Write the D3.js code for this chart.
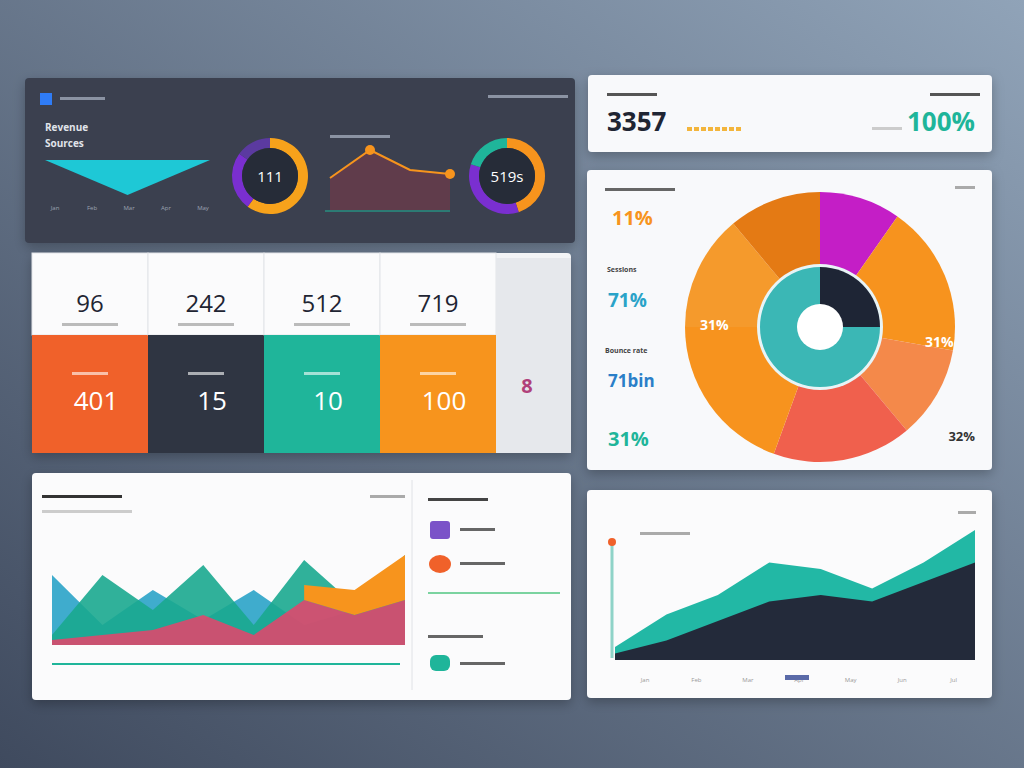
<!DOCTYPE html>
<meta charset="utf-8">
<script src="https://cdn.jsdelivr.net/npm/d3@7"></script>
<style>
body { margin:0; overflow:hidden; font-family: "Open Sans", "DejaVu Sans", sans-serif; }
</style>
<body>
<script>
// data
var kpiTop = ["96", "242", "512", "719"];
var kpiBottom = ["401", "15", "10", "100"];
var kpiColors = ["#f0612a", "#2f3542", "#1fb59a", "#f7941d"];
var pieValues = [35, 65, 40, 60, 70, 50, 40];
var pieColors = ["#c41ec6", "#f7931e", "#f4894a", "#f0604d", "#f7931e", "#f59a2c", "#e47a14"];
var innerValues = [25, 75];
var innerColors = ["#1e2535", "#3bb7b5"];
var leftArea1 = [70, 20, 55, 25, 55, 20, 35, 70];
var leftArea2 = [10, 70, 35, 80, 20, 85, 40, 90];
var leftArea3 = [5, 10, 15, 30, 10, 45, 30, 45];
var rightTeal = [10, 35, 50, 75, 70, 55, 75, 100];
var rightDark = [5, 15, 30, 45, 50, 45, 60, 75];
var topLine = [40, 75, 50, 45];
var donut1 = [60, 25, 15];
var donut2 = [45, 35, 20];
var months = ["Jan", "Feb", "Mar", "Apr", "May", "Jun", "Jul"];

var svg = d3.select("body").append("svg").attr("width", 1024).attr("height", 768);
var defs = svg.append("defs");
var bg = defs.append("linearGradient").attr("id", "bg").attr("x1", 0).attr("y1", 1).attr("x2", 1).attr("y2", 0);
bg.append("stop").attr("offset", 0).attr("stop-color", "#3f4a5e");
bg.append("stop").attr("offset", 1).attr("stop-color", "#90a3b8");
svg.append("rect").attr("width", 1024).attr("height", 768).attr("fill", "url(#bg)");
var sh = defs.append("filter").attr("id", "sh").attr("x", -0.1).attr("y", -0.1).attr("width", 1.2).attr("height", 1.3);
sh.append("feDropShadow").attr("dx", 0).attr("dy", 4).attr("stdDeviation", 6).attr("flood-opacity", 0.25);

function panel(x, y, w, h, fill) {
  return svg.append("rect").attr("x", x).attr("y", y).attr("width", w).attr("height", h)
    .attr("rx", 4).attr("fill", fill).attr("filter", "url(#sh)");
}
function txt(x, y, s, size, fill, weight, anchor) {
  return svg.append("text").attr("x", x).attr("y", y).text(s).attr("font-size", size)
    .attr("fill", fill).attr("font-weight", weight || "normal").attr("text-anchor", anchor || "start");
}
function bar(x, y, w, fill) { svg.append("rect").attr("x", x).attr("y", y).attr("width", w).attr("height", 3).attr("fill", fill); }

// dark top-left panel
panel(25, 78, 550, 165, "#3a4150");
svg.append("rect").attr("x", 40).attr("y", 93).attr("width", 12).attr("height", 12).attr("fill", "#2f7cf6");
bar(60, 97, 45, "#8b93a3"); bar(488, 95, 80, "#8b93a3");
txt(45, 131, "Revenue", 10, "#e0e4ea", "bold");
txt(45, 147, "Sources", 10, "#e0e4ea", "bold");
var xs = d3.scaleLinear().domain([0, 2]).range([45, 210]);
svg.append("path").attr("d", d3.area().x(function(d, i) { return xs(i); }).y0(160).y1(function(d) { return 160 + d; })([0, 35, 0]))
  .attr("fill", "#1ec8d6");
["Jan", "Feb", "Mar", "Apr", "May"].forEach(function(s, i) { txt(55 + i * 37, 210, s, 6, "#9ba3b2", "normal", "middle"); });

var arc38 = d3.arc().innerRadius(28).outerRadius(38);
function donut(cx, cy, vals, cols, label) {
  var g = svg.append("g").attr("transform", "translate(" + cx + "," + cy + ")");
  g.selectAll("path").data(d3.pie().sort(null)(vals)).enter().append("path").attr("d", arc38)
    .attr("fill", function(d, i) { return cols[i]; });
  g.append("circle").attr("r", 28).attr("fill", "#262c38");
  g.append("text").attr("text-anchor", "middle").attr("dy", 6).attr("font-size", 15).attr("fill", "#fff").text(label);
}
donut(270, 176, donut1, ["#f7a21b", "#7a2fd0", "#5b3aa0"], "111");
donut(507, 176, donut2, ["#f7941d", "#7a2fd0", "#1fb59a"], "519s");

var lx = d3.scaleLinear().domain([0, 3]).range([330, 450]);
var ly = d3.scaleLinear().domain([0, 100]).range([210, 130]);
svg.append("path").attr("d", d3.area().x(function(d, i) { return lx(i); }).y0(210).y1(ly)(topLine)).attr("fill", "#7a3a4a").attr("opacity", 0.6);
svg.append("path").attr("d", d3.line().x(function(d, i) { return lx(i); }).y(ly)(topLine)).attr("fill", "none").attr("stroke", "#f7941d").attr("stroke-width", 2);
[1, 3].forEach(function(i) { svg.append("circle").attr("cx", lx(i)).attr("cy", ly(topLine[i])).attr("r", 5).attr("fill", "#f7941d"); });
bar(330, 135, 60, "#8b93a3"); svg.append("line").attr("x1", 325).attr("x2", 450).attr("y1", 211).attr("y2", 211).attr("stroke", "#1fb59a");

// top-right stat
panel(588, 75, 404, 77, "#f8f9fb");
bar(607, 93, 50, "#555"); bar(930, 93, 50, "#555");
txt(607, 131, "3357", 26, "#1f2533", "bold");
txt(975, 131, "100%", 26, "#1fb59a", "bold", "end");
for (var i = 0; i < 8; i++) svg.append("rect").attr("x", 687 + i * 7).attr("y", 127).attr("width", 5).attr("height", 4).attr("fill", "#f3b53c");
bar(872, 127, 30, "#ccc");

// pie panel
panel(587, 170, 405, 300, "#f8f9fb");
bar(605, 188, 70, "#666"); bar(955, 186, 20, "#aaa");
var pieG = svg.append("g").attr("transform", "translate(820,327)");
pieG.selectAll("path").data(d3.pie().sort(null)(pieValues)).enter().append("path")
  .attr("d", d3.arc().innerRadius(0).outerRadius(135)).attr("fill", function(d, i) { return pieColors[i]; });
pieG.append("circle").attr("r", 63).attr("fill", "#e8f4f6");
pieG.selectAll(".in").data(d3.pie().sort(null)(innerValues)).enter().append("path")
  .attr("d", d3.arc().innerRadius(0).outerRadius(60)).attr("fill", function(d, i) { return innerColors[i]; });
pieG.append("circle").attr("r", 23).attr("fill", "#fff");
txt(612, 225, "11%", 20, "#f7941d", "bold");
txt(607, 272, "Sessions", 7, "#444", "bold");
txt(608, 307, "71%", 19, "#2aa3c8", "bold");
txt(605, 353, "Bounce rate", 7, "#444", "bold");
txt(608, 387, "71bin", 17, "#2a7fc8", "bold");
txt(608, 446, "31%", 20, "#1fb59a", "bold");
txt(700, 330, "31%", 14, "#fff", "bold");
txt(925, 347, "31%", 14, "#fff", "bold");
txt(975, 441, "32%", 13, "#333", "bold", "end");

// KPI cards
panel(32, 253, 539, 200, "#f3f4f6");
var kx = d3.scaleBand().domain(d3.range(4)).range([32, 496]);
kpiTop.forEach(function(v, i) {
  var x = kx(i), w = kx.bandwidth();
  svg.append("rect").attr("x", x).attr("y", 253).attr("width", w).attr("height", 82).attr("fill", "#fbfbfc").attr("stroke", "#e2e4e8");
  svg.append("rect").attr("x", x).attr("y", 335).attr("width", w).attr("height", 118).attr("fill", kpiColors[i]);
  txt(x + w / 2, 312, v, 24, "#1f2533", "normal", "middle");
  bar(x + w / 2 - 28, 323, 56, "#bbb");
  bar(x + w / 2 - 18, 372, 36, "rgba(255,255,255,0.6)");
  txt(x + w / 2 + 6, 410, kpiBottom[i], 26, "#fff", "normal", "middle");
});
svg.append("rect").attr("x", 496).attr("y", 258).attr("width", 75).attr("height", 195).attr("fill", "#e6e8ec");
txt(527, 393, "8", 20, "#b0407a", "bold", "middle");

// bottom-left panel
panel(32, 473, 539, 227, "#fbfbfc");
bar(42, 495, 80, "#333"); bar(370, 495, 35, "#aaa"); bar(42, 510, 90, "#ccc");
var bx = d3.scaleLinear().domain([0, 7]).range([52, 405]);
var by = d3.scaleLinear().domain([0, 100]).range([645, 545]);
function area(data, fill, op) {
  svg.append("path").attr("d", d3.area().x(function(d, i) { return bx(i); }).y0(645).y1(by)(data)).attr("fill", fill).attr("opacity", op);
}
area(leftArea1, "#2aa3c8", 0.9);
area(leftArea2, "#1aa98f", 0.9);
area(leftArea3, "#e8436b", 0.85);
svg.append("path").attr("d", d3.area().x(function(d, i) { return bx(i + 5); }).y0(function(d, i) { return by(leftArea3[i + 5]); }).y1(by)([60, 55, 90])).attr("fill", "#f7941d");
svg.append("line").attr("x1", 52).attr("x2", 400).attr("y1", 664).attr("y2", 664).attr("stroke", "#1fb59a").attr("stroke-width", 2);
svg.append("line").attr("x1", 412).attr("x2", 412).attr("y1", 480).attr("y2", 690).attr("stroke", "#e0e2e6");
bar(428, 498, 60, "#444");
svg.append("rect").attr("x", 430).attr("y", 521).attr("width", 20).attr("height", 18).attr("rx", 3).attr("fill", "#7b52c8");
svg.append("ellipse").attr("cx", 440).attr("cy", 564).attr("rx", 11).attr("ry", 9).attr("fill", "#f0612a");
svg.append("rect").attr("x", 430).attr("y", 655).attr("width", 20).attr("height", 16).attr("rx", 6).attr("fill", "#1fb59a");
bar(460, 528, 35, "#666"); bar(460, 562, 45, "#666"); bar(428, 635, 55, "#666"); bar(460, 662, 45, "#666");
svg.append("line").attr("x1", 428).attr("x2", 560).attr("y1", 593).attr("y2", 593).attr("stroke", "#7bd3a0").attr("stroke-width", 2);

// bottom-right panel
panel(587, 490, 405, 208, "#fbfbfc");
bar(640, 532, 50, "#aaa"); bar(958, 511, 18, "#aaa");
var rx = d3.scaleLinear().domain([0, 7]).range([615, 975]);
var ry = d3.scaleLinear().domain([0, 100]).range([660, 530]);
svg.append("path").attr("d", d3.area().x(function(d, i) { return rx(i); }).y0(660).y1(ry)(rightTeal)).attr("fill", "#22b8a5");
svg.append("path").attr("d", d3.area().x(function(d, i) { return rx(i); }).y0(660).y1(ry)(rightDark)).attr("fill", "#232a3a");
svg.append("line").attr("x1", 612).attr("x2", 612).attr("y1", 542).attr("y2", 658).attr("stroke", "#8fd3c8").attr("stroke-width", 3);
svg.append("circle").attr("cx", 612).attr("cy", 542).attr("r", 4).attr("fill", "#f0612a");
months.forEach(function(s, i) {
  txt(rx(i) + 30, 682, s, 6, "#999", "normal", "middle");
});
svg.append("rect").attr("x", 785).attr("y", 675).attr("width", 24).attr("height", 5).attr("fill", "#5a6aa8");
</script>
</body>
